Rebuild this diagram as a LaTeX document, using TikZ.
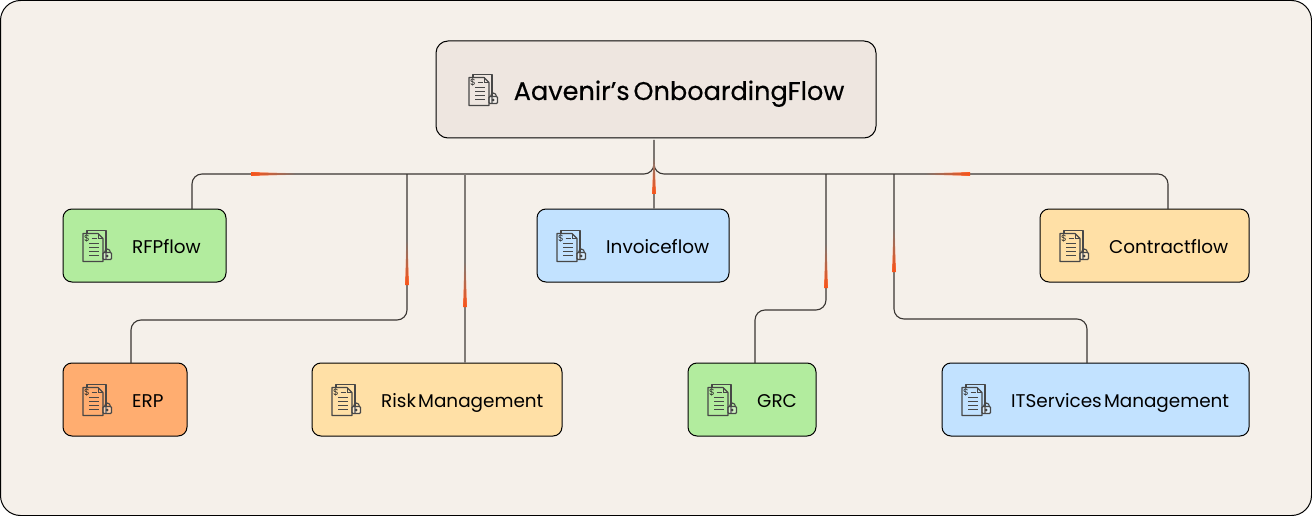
\documentclass[tikz,border=0pt]{standalone}
\usepackage{fontspec}
\setmainfont[WordSpace=0.45]{Poppins}
\newfontfamily\titlefont[WordSpace=0.55,FakeBold=0.3]{Poppins}
\usetikzlibrary{calc,fadings}

\definecolor{pagebg}{HTML}{F5F0EA}
\definecolor{titlebg}{HTML}{EEE6E0}
\definecolor{cardgreen}{HTML}{B2EC9E}
\definecolor{cardblue}{HTML}{C2E2FF}
\definecolor{cardyellow}{HTML}{FFE0A6}
\definecolor{cardorange}{HTML}{FFAD70}
\definecolor{wire}{HTML}{3A3633}
\definecolor{wiregrey}{HTML}{807B77}
\definecolor{glow}{HTML}{F9541A}

\tikzset{
	card/.style={draw=black, line width=1pt, rounded corners=9pt, minimum height=73pt, inner sep=0pt},
	cardtext/.style={anchor=base west, inner sep=0pt, font=\fontsize{18.4}{22}\selectfont},
	wireline/.style={draw=wire, line width=1.1pt, rounded corners=10pt},
	wiredrop/.style={draw=wiregrey, line width=1.1pt},
	doclock/.pic={
		\draw[line width=1.1pt, color=black!72, line join=round] (-9,-13) -- (-9,-16) -- (10,-16) -- (10,13) -- (7,13);
		\draw[line width=1.1pt, color=black!72, line join=round] (-13,-13) -- (2,-13) -- (7,-8) -- (7,15) -- (-13,15) -- cycle;
		\draw[line width=0.8pt, color=black!72] (2,-13) -- (2,-8) -- (7,-8);
		\node[inner sep=0pt, font=\fontsize{9}{9}\selectfont, color=black!85] at (-9,-8.5) {\$};
		\draw[line width=1.1pt, color=black!72] (-4.5,-8) -- (1,-8);
		\foreach \y in {-3,1,5,9} \draw[line width=1.1pt, color=black!72] (-7,\y) -- (3,\y);
		\draw[line width=1.1pt, color=black!72] (8.6,6) arc (180:360:2.9 and 3.4);
		\draw[line width=1.1pt, color=black!72, fill=white, fill opacity=0.35, rounded corners=1pt] (7,6) rectangle (15.5,13);
		\fill[color=black!75] (11.2,9.5) circle (1.5);
	}
}

% orange streaks on the wires
\newcommand{\glowdown}[3]{\fill[glow, path fading=north] (#1-2,#3) -- (#1+2,#3) -- (#1+0.7,#2) -- (#1-0.7,#2) -- cycle;}
\newcommand{\glowleft}[3]{\fill[glow, path fading=east] (#1,#3-2) -- (#1,#3+2) -- (#2,#3+0.7) -- (#2,#3-0.7) -- cycle;}
\newcommand{\glowright}[3]{\fill[glow, path fading=west] (#1,#3-2) -- (#1,#3+2) -- (#2,#3+0.7) -- (#2,#3-0.7) -- cycle;}

\begin{document}
\begin{tikzpicture}[x=1pt, y=-1pt]
	\useasboundingbox (0,0) rectangle (1312,516);
	\draw[line width=1pt, fill=pagebg, rounded corners=20pt] (0.5,0.5) rectangle (1311.5,515.5);

	%%%%% CARDS %%%%%
	\node[card, fill=titlebg, rounded corners=12pt, minimum width=440pt, minimum height=97pt] (root) at (656,89.5) {};
	\pic at (482,90.5) {doclock};
	\node[cardtext, font=\titlefont\fontsize{25.6}{32}\selectfont] (roottext) at ($(root.west)+(78,10.5)$) {Aavenir’s OnboardingFlow};

	\node[card, fill=cardgreen, minimum width=163pt] (rfp) at (144.5,245.5) {};
	\pic at (96,246.5) {doclock};
	\node[cardtext] (rfptext) at ($(rfp.west)+(69.5,8)$) {RFPflow};

	\node[card, fill=cardblue, minimum width=192pt] (invoice) at (633,245.5) {};
	\pic at (570,246.5) {doclock};
	\node[cardtext] (invoicetext) at ($(invoice.west)+(69.5,8)$) {Invoiceflow};

	\node[card, fill=cardyellow, minimum width=209pt] (contract) at (1144.5,245.5) {};
	\pic at (1073,246.5) {doclock};
	\node[cardtext] (contracttext) at ($(contract.west)+(69.5,8)$) {Contractflow};

	\node[card, fill=cardorange, minimum width=124pt] (erp) at (125,399.5) {};
	\pic at (96,400.5) {doclock};
	\node[cardtext] (erptext) at ($(erp.west)+(69.5,8)$) {ERP};

	\node[card, fill=cardyellow, minimum width=250pt] (risk) at (437,399.5) {};
	\pic at (345,400.5) {doclock};
	\node[cardtext] (risktext) at ($(risk.west)+(69.5,8)$) {Risk Management};

	\node[card, fill=cardgreen, minimum width=128pt] (grc) at (752,399.5) {};
	\pic at (721,400.5) {doclock};
	\node[cardtext] (grctext) at ($(grc.west)+(69.5,8)$) {GRC};

	\node[card, fill=cardblue, minimum width=307pt] (its) at (1095.5,399.5) {};
	\pic at (975,400.5) {doclock};
	\node[cardtext] (itstext) at ($(its.west)+(69.5,8)$) {ITServices Management};

	%%%%% WIRES %%%%%
	\coordinate (rootout) at (654,140);
	\coordinate (split) at (654,164);
	\coordinate (trunk) at (654,174);
	\coordinate (rfpin) at (192,209);
	\coordinate (invoicein) at (654,209);
	\coordinate (contractin) at (1168,209);
	\coordinate (erptap) at (407,174);
	\coordinate (erpin) at (131,363);
	\coordinate (risktap) at (465,174);
	\coordinate (riskin) at (465,363);
	\coordinate (grctap) at (826,174);
	\coordinate (grcin) at (755,363);
	\coordinate (itstap) at (894,174);
	\coordinate (itsin) at (1087,363);

	\draw[wireline] (rootout) -- (trunk) -- (192,174) -- (rfpin);
	\draw[wireline] (split) -- (trunk) -- (1168,174) -- (contractin);
	\draw[wiredrop] (split) -- (invoicein);
	\draw[wireline] (erptap) -- (407,320) -- (131,320) -- (erpin);
	\draw[wiredrop] (risktap) -- (riskin);
	\draw[wireline] (grctap) -- (826,310) -- (755,310) -- (grcin);
	\draw[wireline] (itstap) -- (894,319) -- (1087,319) -- (itsin);

	%%%%% STREAKS %%%%%
	\glowleft{251}{296}{174}
	\glowright{970}{925}{174}
	\glowdown{654}{157}{194}
	\glowdown{407}{240}{285}
	\glowdown{465}{261}{307}
	\glowdown{826}{243}{288}
	\glowdown{894}{228}{272}
\end{tikzpicture}
\end{document}
